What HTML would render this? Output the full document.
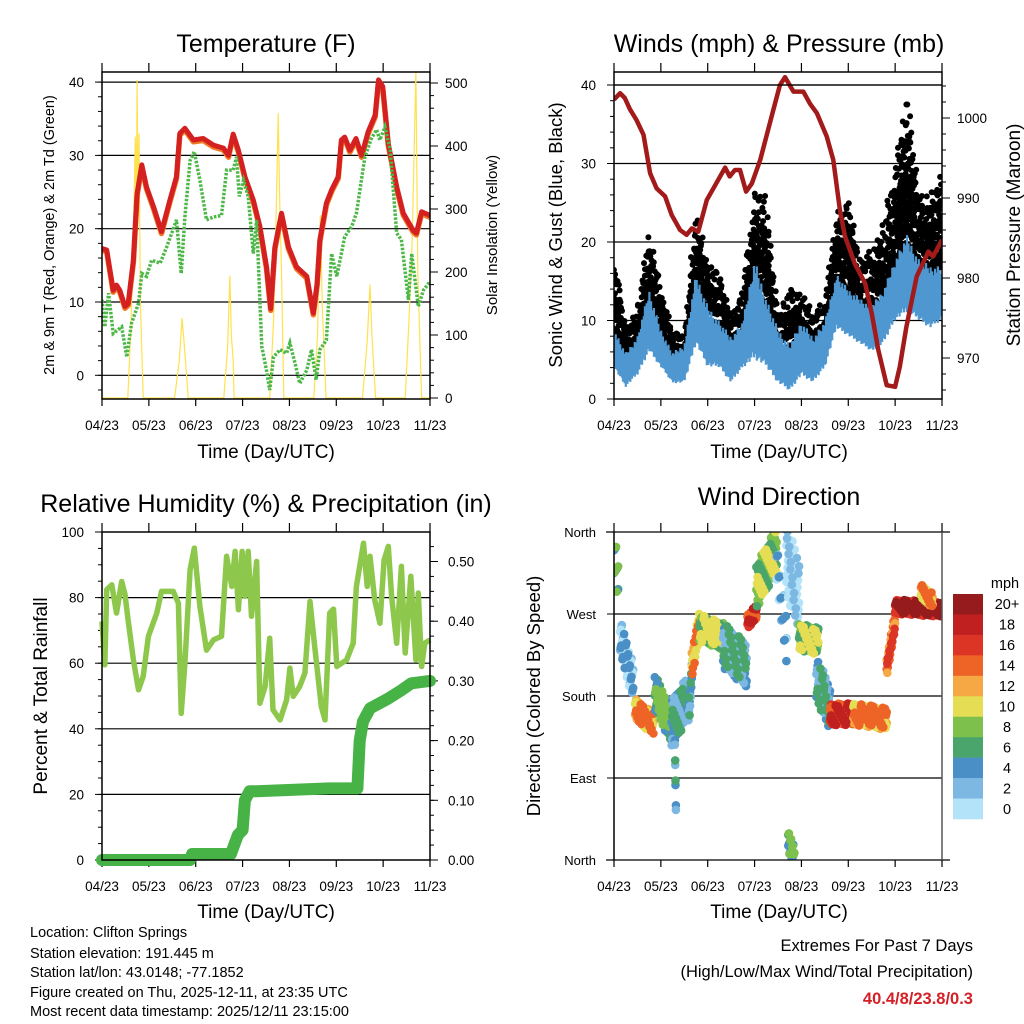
<!DOCTYPE html>
<html><head><meta charset="utf-8"><style>
html,body{margin:0;padding:0;background:#fff;}
svg{display:block;font-family:"Liberation Sans",Arial,sans-serif;}
</style></head><body>
<svg id="s" width="1024" height="1024" viewBox="0 0 1024 1024" xmlns="http://www.w3.org/2000/svg">
<rect width="1024" height="1024" fill="#fff"/>
<g font-size="25" text-anchor="middle" fill="#000">
<text x="266" y="52">Temperature (F)</text>
<text x="779" y="52">Winds (mph) &amp; Pressure (mb)</text>
<text x="266" y="512">Relative Humidity (%) &amp; Precipitation (in)</text>
<text x="779" y="505">Wind Direction</text>
</g>
<g font-size="19" text-anchor="middle">
<text x="266" y="458">Time (Day/UTC)</text>
<text x="779" y="458">Time (Day/UTC)</text>
<text x="266" y="918">Time (Day/UTC)</text>
<text x="779" y="918">Time (Day/UTC)</text>
<text transform="translate(54,235) rotate(-90)" font-size="14.5">2m &amp; 9m T (Red, Orange) &amp; 2m Td (Green)</text>
<text transform="translate(497,235) rotate(-90)" font-size="15">Solar Insolation (Yellow)</text>
<text transform="translate(562,235) rotate(-90)" font-size="18.5">Sonic Wind &amp; Gust (Blue, Black)</text>
<text transform="translate(1020,235) rotate(-90)" font-size="19">Station Pressure (Maroon)</text>
<text transform="translate(47,696) rotate(-90)" font-size="19">Percent &amp; Total Rainfall</text>
<text transform="translate(540,696) rotate(-90)" font-size="18.5">Direction (Colored By Speed)</text>
</g>
<g font-size="14.5">
<text x="30" y="937">Location: Clifton Springs</text>
<text x="30" y="958">Station elevation: 191.445 m</text>
<text x="30" y="977">Station lat/lon: 43.0148; -77.1852</text>
<text x="30" y="997">Figure created on Thu, 2025-12-11, at 23:35 UTC</text>
<text x="30" y="1016">Most recent data timestamp: 2025/12/11 23:15:00</text>
</g>
<g font-size="16.5" text-anchor="end">
<text x="973" y="951">Extremes For Past 7 Days</text>
<text x="973" y="977">(High/Low/Max Wind/Total Precipitation)</text>
<text x="973" y="1004" fill="#d42027" font-weight="bold">40.4/8/23.8/0.3</text>
</g>
<g id="g"></g>
</svg>
<script>
// ---------- DATA ----------
const tickLabels = ["04/23","05/23","06/23","07/23","08/23","09/23","10/23","11/23"];
const tempT = [0,.10,.24,.31,.38,.49,.56,.67,.75,.85,.95,1.10,1.27,1.45,1.59,1.66,1.77,1.95,2.16,2.38,2.59,2.70,2.80,2.91,3.05,3.23,3.37,3.51,3.60,3.69,3.83,3.98,4.15,4.37,4.51,4.59,4.65,4.79,4.90,5.04,5.11,5.18,5.29,5.42,5.54,5.68,5.83,5.90,5.99,6.11,6.29,6.43,6.64,6.71,6.82,7.0];
const tempV = [17.3,17.1,11.6,12.3,11.6,9.4,9.8,15.7,24.8,28.7,25.7,23,19.6,23.9,27.1,33,33.7,32.1,32.3,31.4,31,30,32.9,30.7,27.1,23.9,20.3,14.8,9.1,17.5,22.1,17.5,14.8,13.5,8.5,12.5,18.5,23.5,25.3,27.1,32.1,32.5,30.7,32.3,30,33.2,35.5,40.3,39.4,31.6,25.7,22.1,19.8,19.4,22.3,21.8];
const dewT = [0,.06,.14,.24,.42,.53,.63,.78,.85,.95,1.06,1.24,1.38,1.59,1.69,1.77,1.88,1.97,2.09,2.23,2.38,2.55,2.66,2.80,2.87,2.93,3.02,3.12,3.23,3.30,3.41,3.51,3.58,3.66,3.80,3.94,4.01,4.12,4.22,4.37,4.47,4.57,4.65,4.79,4.90,5.01,5.18,5.33,5.43,5.61,5.75,5.86,5.93,6.04,6.15,6.29,6.39,6.54,6.61,6.75,6.86,7.0];
const dewV = [10.3,6.6,11.2,5.7,6.6,2.5,7.1,9.8,13.9,13.5,15.7,15.3,17.5,21.2,13.9,21.6,29.3,30.5,26.6,21.2,21.6,21.8,28,28,29.8,24.4,26.6,24.4,16.6,21.2,3.9,0.7,-2,2.5,3.5,3,4.4,1.6,-1.1,0.7,3.5,-0.6,3.5,4.8,16.6,13.5,18.9,20.3,22.1,29.8,32.3,33.5,32.1,33.9,30.7,19.4,18.5,10.3,16.6,9.4,11.6,12.8];
const solarT = [0,.55,.62,.68,.71,.73,.75,.77,.79,.82,.88,1.55,1.65,1.71,1.76,1.84,2.6,2.68,2.73,2.76,2.8,2.82,3.58,3.66,3.72,3.76,3.79,3.83,3.88,4.52,4.6,4.66,4.7,4.78,5.56,5.66,5.72,5.76,5.84,6.47,6.55,6.62,6.7,6.74,6.82,7.0];
const solarV = [0,0,120,300,415,250,505,300,420,150,0,0,60,127,80,0,0,80,194,100,60,0,0,120,300,452,320,200,0,0,100,290,150,0,0,90,180,100,0,0,120,250,520,200,0,0];
const windT = [0,.25,.5,.75,1,1.25,1.5,1.75,2,2.25,2.5,2.75,3,3.25,3.5,3.75,4,4.25,4.5,4.75,5,5.25,5.5,5.75,6,6.25,6.5,6.75,7];
const windLo = [4,1.5,3,6,4,2,2,7,4,4,2,4,5,4,2,1,3,2,4,9,8,7,6,7,10,11,10,9,10];
const windHi = [9,6,8,14,9,6,7,16,12,10,8,10,18,13,9,7,10,8,10,16,14,13,12,14,18,21,18,17,17];
const gustLo = [7,6,5,10,7,5,5,13,8,8,6,7,12,10,4,5,6,5,6,14,12,10,11,10,16,18,16,15,17];
const gustHi = [19,9,12,22,14,9,8,24,18,16,11,14,27,26,11,14,14,11,13,24,26,18,19,23,30,40,27,26,30];
const presT = [0,.13,.23,.34,.48,.63,.77,.91,1.09,1.23,1.41,1.55,1.66,1.80,1.98,2.16,2.37,2.47,2.58,2.69,2.82,2.94,3.12,3.26,3.40,3.54,3.65,3.83,4.04,4.18,4.33,4.54,4.68,4.82,4.93,5.14,5.36,5.50,5.64,5.82,6.00,6.10,6.24,6.46,6.71,6.81,7.0];
const presV = [1002.3,1003.1,1002.5,1001.1,999.75,997.9,993.1,991.2,990.2,987.9,986,985.4,986.2,985.8,989.75,991.6,993.8,992.7,993.5,993.5,990.8,991.8,994.75,997.9,1001,1004.1,1005.1,1003.3,1003.3,1001.8,1000.6,997.7,994.75,988.5,985.2,981.8,979.3,975.6,971,966.6,966.4,968.9,973.9,980.2,983.3,982.7,984.75];
const rhT = [0,.06,.10,.21,.31,.42,.49,.56,.67,.78,.88,.99,1.17,1.27,1.52,1.63,1.69,1.77,1.88,1.97,2.09,2.23,2.38,2.55,2.66,2.77,2.84,2.91,2.99,3.05,3.12,3.19,3.30,3.37,3.48,3.58,3.65,3.80,3.94,4.01,4.08,4.22,4.33,4.44,4.54,4.68,4.76,4.86,4.94,5.01,5.22,5.36,5.43,5.58,5.66,5.72,5.82,5.93,6.02,6.11,6.18,6.29,6.39,6.47,6.59,6.70,6.75,6.82,6.89,7.0];
const rhV = [72.7,59.5,82.4,83.9,75.3,84.9,81,72.9,61,51.9,56,68.2,75.3,81.9,81.9,78.3,44.7,60,88.5,95.1,77.3,64,67.1,68.2,92.6,83.4,94.1,76.3,94.1,80.4,94.1,74.3,91,47.8,52.9,67.6,45.8,42.7,48.8,58.5,49.9,52.9,57,78.8,65.1,46.8,42.7,75.3,76.5,59,61,66.1,83.4,96.6,83.4,92.6,79.3,72.2,91.5,95.6,80.4,66.1,89.5,63.1,86.5,61,81.4,59,66.1,67.1];
const precT = [0,1.88,1.92,2.75,2.9,3.0,3.05,3.15,3.3,4.85,5.45,5.5,5.57,5.72,6.1,6.4,6.6,7.0];
const precV = [0,0,.01,.01,.042,.05,.10,.115,.115,.12,.12,.20,.232,.254,.27,.285,.296,.30];
const dirT0 = [0,.13,.45,.87,1.23,1.30,1.59,1.66,1.83,2.33,2.85,3.04,3.47,3.68,3.72,3.95,4.32,4.61,5.11,5.82,6.0,6.55];
const dirT1 = [.09,.41,.84,1.2,1.55,1.32,1.66,1.83,2.33,2.83,3.04,3.47,3.68,3.95,3.85,4.36,4.61,5.11,5.82,6.0,7.0,6.8];
const dirD0 = [340,245,165,185,150,130,160,215,255,235,262,300,330,330,20,245,200,160,160,210,278,295];
const dirD1 = [300,195,150,150,175,60,200,260,245,215,272,340,240,290,5,240,165,160,155,265,275,285];
const dirSpread = [25,20,12,20,25,5,15,15,15,25,8,25,25,40,12,15,25,12,12,10,8,8];
const dirSpeed = [7,3,12,7,4,4,4,13,9,5,17,8,3,1,6,9,5,16,12,15,19,12];
const barLabels = ["20+","18","16","14","12","10","8","6","4","2","0"];
const barColors = ["#951b1c","#c0201f","#dc3525","#ee6427","#f5a844","#e5de55","#7dc04b","#49a56c","#4a8fc6","#7db8e3","#b3e3f8"];

// ---------- HELPERS ----------
const NS="http://www.w3.org/2000/svg";
const G=document.getElementById('g');
function mk(tag,attrs,parent){const e=document.createElementNS(NS,tag);for(const k in attrs)e.setAttribute(k,attrs[k]);(parent||G).appendChild(e);return e;}
function txt(s,attrs,parent){const e=mk('text',attrs,parent);e.textContent=s;return e;}
function interp(ts,vs,t){for(let i=0;i<ts.length-1;i++){if(t>=ts[i]&&t<=ts[i+1]){const f=(t-ts[i])/((ts[i+1]-ts[i])||1);return vs[i]+f*(vs[i+1]-vs[i]);}}return vs[vs.length-1];}
function pathD(ts,vs,xf,yf){return ts.map((t,i)=>(i?'L':'M')+xf(t).toFixed(1)+' '+yf(vs[i]).toFixed(1)).join(' ');}
function spdColor(s){let i=Math.min(10,Math.max(0,Math.floor(s/2)));return barColors[10-i];}
function frac(v){return v-Math.floor(v);}
function dot(x,y,r){return 'M'+(x-r).toFixed(1)+' '+y.toFixed(1)+'a'+r+' '+r+' 0 1 0 '+(2*r)+' 0a'+r+' '+r+' 0 1 0 '+(-2*r)+' 0';}

const P1={L:102,R:430,T:72,B:399}, P2={L:614,R:942,T:72,B:399}, P3={L:102,R:430,T:532,B:860}, P4={L:614,R:942,T:532,B:860};
const xs=P=>t=>P.L+t*(P.R-P.L)/7;
const x1=xs(P1),x2=xs(P2),x3=xs(P3),x4=xs(P4);
const yT=v=>375.3-v*7.33, ySol=v=>398-v*0.63;
const yW=v=>399-v*7.85, yP=p=>358-(p-970)*8;
const yRH=v=>860-v*3.28, yPr=v=>860-v*597;
const yD=d=>860-d*328/360;

function frame(P,name,clipId){
  const c=mk('clipPath',{id:clipId});
  mk('rect',{x:P.L,y:P.T,width:P.R-P.L,height:P.B-P.T},c);
  const xf=xs(P);
  for(let i=0;i<tickLabels.length;i++){
    const x=xf(i);
    const tk=mk('line',{x1:x,y1:P.T-9,x2:x,y2:P.T,stroke:'#000','stroke-width':1.2});
    
    
    const tb=mk('line',{x1:x,y1:P.B,x2:x,y2:P.B+7,stroke:'#000','stroke-width':1.2});
    
    
    const lb=txt(tickLabels[i],{x:x,y:P.B+31,'font-size':13.5,'text-anchor':'middle'});
    
    
  }
}
function hline(y,P,name){const l=mk('line',{x1:P.L,y1:y,x2:P.R,y2:y,stroke:'#000','stroke-width':1.2});
  
  }
function yLabel(s,x,y,anchor,name,fs){const t=txt(s,{x:x,y:y+5,'font-size':fs||13.5,'text-anchor':anchor});
  
  }
function ytick(x1_,x2_,y,name){const l=mk('line',{x1:x1_,y1:y,x2:x2_,y2:y,stroke:'#000','stroke-width':1});
  
  }
function box(P,name){const r=mk('rect',{x:P.L,y:P.T,width:P.R-P.L,height:P.B-P.T,fill:'none',stroke:'#000','stroke-width':1.5});
  
  }

// ---------- PANEL 1: Temperature ----------
frame(P1,'temp','c1');
[0,10,20,30,40].forEach(v=>{hline(yT(v),P1,'temp-gridline');yLabel(String(v),84,yT(v),'end','temp-y-tick-label');ytick(P1.L-7,P1.L,yT(v),'temp-y-tick');});
for(let v=-2;v<=41;v+=2){ytick(P1.L-4,P1.L,yT(v),'temp-y-minor-tick');}
[0,100,200,300,400,500].forEach(v=>{yLabel(String(v),445,ySol(v),'start','solar-y-tick-label');ytick(P1.R,P1.R+8,ySol(v),'solar-y-tick');});
for(let v=0;v<=515;v+=20){ytick(P1.R,P1.R+4,ySol(v),'solar-y-minor-tick');}
const g1=mk('g',{'clip-path':'url(#c1)'});
const sol=mk('path',{d:pathD(solarT,solarV,x1,ySol),fill:'none',stroke:'#ffe14d','stroke-width':1.2},g1);


const t9=mk('path',{d:pathD(tempT,tempV.map(v=>v-0.25),x1,yT),fill:'none',stroke:'#f07a24','stroke-width':5.5,'stroke-linejoin':'round'},g1);


const t2=mk('path',{d:pathD(tempT,tempV,x1,yT),fill:'none',stroke:'#d42020','stroke-width':5,'stroke-linejoin':'round'},g1);


const td=mk('path',{d:pathD(dewT,dewV,x1,yT),fill:'none',stroke:'#4db848','stroke-width':3.5,'stroke-dasharray':'2.5 1.5'},g1);


box(P1,'temp-plot-frame');

// ---------- PANEL 2: Winds & Pressure ----------
frame(P2,'winds','c2');
[10,20,30,40].forEach(v=>hline(yW(v),P2,'wind-gridline'));
[0,10,20,30,40].forEach(v=>{yLabel(String(v),596,yW(v),'end','wind-y-tick-label');ytick(P2.L-7,P2.L,yW(v),'wind-y-tick');});
for(let v=0;v<=41;v+=2){ytick(P2.L-4,P2.L,yW(v),'wind-y-minor-tick');}
[970,980,990,1000].forEach(v=>{yLabel(String(v),957,yP(v),'start','pressure-y-tick-label');ytick(P2.R,P2.R+8,yP(v),'pressure-y-tick');});
for(let v=966;v<=1005;v+=2){ytick(P2.R,P2.R+4,yP(v),'pressure-y-minor-tick');}
const g2=mk('g',{'clip-path':'url(#c2)'});
let gd='';
let si=0;
for(let t=0;t<=7.001;t+=0.015,si++){
  const lo=interp(windT,gustLo,t),hi=interp(windT,gustHi,t);
  const span=hi-lo;
  const n=Math.max(1,Math.ceil(span/2.0));
  const reach=0.45+0.55*frac(0.55+si*0.382);
  for(let k=0;k<n;k++){
    const v=lo+((k+frac(si*0.618+k*0.31))/n)*span*reach;
    const x=x2(t)+(frac(k*0.37+si*0.23)*2-1);
    gd+=dot(x,yW(v),3);
  }
  if(frac(si*0.414)<0.35) gd+=dot(x2(t),yW(lo+span*(0.7+0.3*frac(si*0.73))),3);
}
const gust=mk('path',{d:gd,fill:'#000'},g2);


let wd='';
si=0;
for(let t=0;t<=7.001;t+=0.012,si++){
  const lo=interp(windT,windLo,t),hi=interp(windT,windHi,t);
  const top=lo+(hi-lo)*(0.55+0.45*frac(si*0.618));
  const bot=lo+(hi-lo)*0.25*frac(si*0.382);
  const x=x2(t).toFixed(1);
  wd+='M'+x+' '+yW(bot).toFixed(1)+'V'+yW(top).toFixed(1);
}
const wind=mk('path',{d:wd,fill:'none',stroke:'#4f97d1','stroke-width':2.2},g2);


const pres=mk('path',{d:pathD(presT,presV,x2,yP),fill:'none',stroke:'#a31a1a','stroke-width':4.5,'stroke-linejoin':'round'},g2);


hline(85,P2,'wind-gridline-40');
box(P2,'winds-plot-frame');

// ---------- PANEL 3: RH & Precip ----------
frame(P3,'rh','c3');
[20,40,60,80].forEach(v=>hline(yRH(v),P3,'rh-gridline'));
[0,20,40,60,80,100].forEach(v=>{yLabel(String(v),84,yRH(v),'end','rh-y-tick-label');ytick(P3.L-7,P3.L,yRH(v),'rh-y-tick');});
for(let v=0;v<=100;v+=5){ytick(P3.L-4,P3.L,yRH(v),'rh-y-minor-tick');}
[0,.1,.2,.3,.4,.5].forEach(v=>{yLabel(v.toFixed(2),448,yPr(v),'start','precip-y-tick-label');ytick(P3.R,P3.R+8,yPr(v),'precip-y-tick');});
for(let v=0;v<=.55;v+=.025){ytick(P3.R,P3.R+4,yPr(v),'precip-y-minor-tick');}
const rh=mk('path',{d:pathD(rhT,rhV,x3,yRH),fill:'none',stroke:'#8dc84c','stroke-width':5.5,'stroke-linejoin':'round'});


const pr=mk('path',{d:pathD(precT,precV,x3,yPr),fill:'none',stroke:'#47b347','stroke-width':12,'stroke-linejoin':'round','stroke-linecap':'round'});


box(P3,'rh-plot-frame');

// ---------- PANEL 4: Wind Direction ----------
frame(P4,'dir','c4');
[90,180,270].forEach(v=>hline(yD(v),P4,'dir-gridline'));
const dirNames=["North","East","South","West","North"];
[0,90,180,270,360].forEach((v,i)=>{yLabel(dirNames[i],596,yD(v),'end','dir-y-tick-label',13);ytick(P4.L-7,P4.L,yD(v),'dir-y-tick');});
const g4=mk('g',{'clip-path':'url(#c4)'});
for(let c=0;c<dirT0.length;c++){
  const n=Math.max(3,Math.round((dirT1[c]-dirT0[c])/0.012));
  const layers=[['',0],['',0],['',0]];
  for(let i=0;i<=n;i++){
    const f=i/n, t=dirT0[c]+f*(dirT1[c]-dirT0[c]), d=dirD0[c]+f*(dirD1[c]-dirD0[c]);
    for(let k=0;k<2;k++){
      const dv=d+dirSpread[c]*(frac(i*0.618+k*0.5+c*0.13)*2-1);
      const L=(i+k)%3;
      layers[L][0]+=dot(x4(t),yD(dv),4.3);
    }
  }
  const offs=[0,-2,2];
  for(let L=0;L<3;L++){
    const p=mk('path',{d:layers[L][0],fill:spdColor(dirSpeed[c]+offs[L])},g4);
    
    
  }
}
hline(P4.T,{L:P4.L-8,R:P4.R+8},'dir-top-line');
hline(P4.B,{L:P4.L-8,R:P4.R+8},'dir-bottom-line');
const b4=mk('line',{x1:P4.L,y1:P4.T,x2:P4.L,y2:P4.B,stroke:'#000','stroke-width':1.5});


const b5=mk('line',{x1:P4.R,y1:P4.T,x2:P4.R,y2:P4.B,stroke:'#555','stroke-width':1.5});


// colorbar
const mph=txt('mph',{x:1005,y:588,'font-size':14.5,'text-anchor':'middle'});


const bh=225/barLabels.length;
for(let i=0;i<barLabels.length;i++){
  const r=mk('rect',{x:953,y:594+i*bh,width:30,height:bh+0.3,fill:barColors[i]});
  
  
  const l=txt(barLabels[i],{x:1007,y:594+i*bh+bh/2+5,'font-size':14.5,'text-anchor':'middle'});
  
  
}
</script>
</body></html>
